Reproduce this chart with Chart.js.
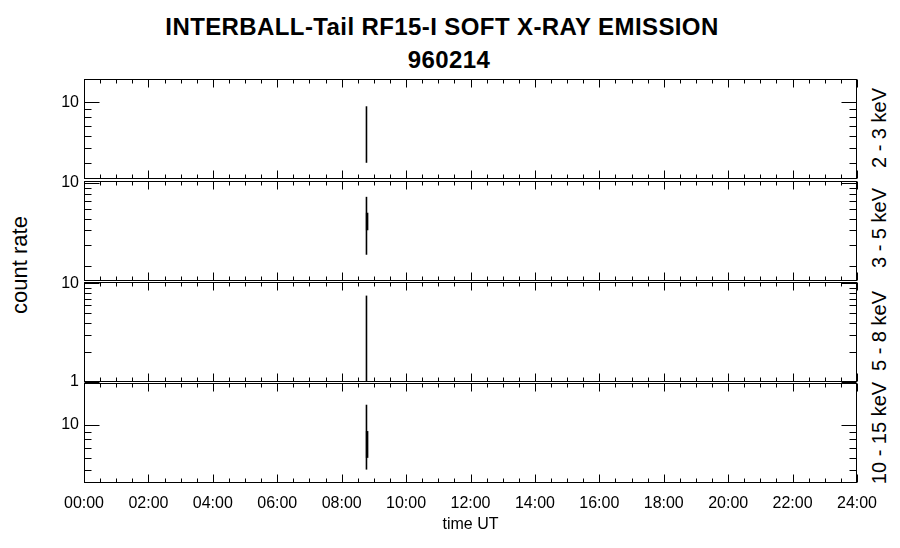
<!DOCTYPE html>
<html>
<head>
<meta charset="utf-8">
<script src="https://cdn.jsdelivr.net/npm/chart.js@4.4.0/dist/chart.umd.min.js"></script>
<style>
  body { margin: 0; background: #fff; }
  #wrap { position: relative; width: 900px; height: 548px; overflow: hidden; font-family: "Liberation Sans", Arial, sans-serif; color: #000; }
  canvas { position: absolute; left: 0; top: 0; }
  .title { position: absolute; left: 0; text-align: center; font-weight: bold; font-size: 24px; line-height: 28px; letter-spacing: 0.4px; white-space: nowrap; }
  .rot { position: absolute; transform: translate(-50%, -50%) rotate(-90deg); white-space: nowrap; font-size: 20px; line-height: 22px; }
  .ylab { font-size: 22px; }
</style>
</head>
<body>
<div id="wrap">
  <div class="title" style="top:13px; width:884px;">INTERBALL-Tail RF15-I SOFT X-RAY EMISSION</div>
  <div class="title" style="top:46px; width:898px;">960214</div>
  <div class="rot ylab" style="left:20px; top:265px;">count rate</div>
  <div class="rot" style="left:879px; top:128px;">2 - 3 keV</div>
  <div class="rot" style="left:879px; top:228px;">3 - 5 keV</div>
  <div class="rot" style="left:879px; top:331px;">5 - 8 keV</div>
  <div class="rot" style="left:879px; top:433px;">10 - 15 keV</div>
  <canvas id="c0" width="900" height="548"></canvas>
  <canvas id="c1" width="900" height="548"></canvas>
  <canvas id="c2" width="900" height="548"></canvas>
  <canvas id="c3" width="900" height="548"></canvas>
</div>
<script>
// 밴드별 count rate — 08:46 UT 근처 한 번의 스파이크
const BANDS = ['2 - 3 keV', '3 - 5 keV', '5 - 8 keV', '10 - 15 keV'];
const SPIKE_TIME = 8.77;
const CORE_TIME = 8.79;
const SPIKE_LO = [4.0, 2.5, 1.0, 5.0];
const SPIKE_HI = [9.4, 7.6, 7.5, 13.7];
const CORE_LO = [null, 4.0, null, 6.0];
const CORE_HI = [null, 5.6, null, 9.1];
const Y_MIN = [3.13, 1.51, 1.0, 4.06];
const Y_MAX = [14.2, 10.3, 10.3, 19.2];
const Y_LABELED = [[10], [10], [1, 10], [10]];
const X_LABELS = ['00:00', '02:00', '04:00', '06:00', '08:00', '10:00', '12:00',
  '14:00', '16:00', '18:00', '20:00', '22:00', '24:00'];

// 패널 배치 (픽셀)
const W = 900, H = 548;
const LEFT = 84, RIGHT = 857;
const TOPS = [79, 181, 282, 383];
const BOTTOMS = [179, 281, 382, 483];

Chart.defaults.font.family = '"Liberation Sans", Arial, sans-serif';
Chart.defaults.color = '#000';

// 테두리 + 안쪽으로 향하는 눈금 (1px 선명하게)
const frameTicks = {
  id: 'frameTicks',
  afterDraw(chart, args, opts) {
    const { ctx, chartArea: a } = chart;
    const x = chart.scales.x, y = chart.scales.y;
    const L = Math.round(a.left) + 0.5, R = Math.round(a.right) - 0.5;
    const T = Math.round(a.top) + 0.5, B = Math.round(a.bottom) - 0.5;
    ctx.save();
    ctx.strokeStyle = '#000';
    ctx.lineWidth = 1;
    ctx.strokeRect(L, T, R - L, B - T);
    ctx.beginPath();
    for (let h = 0; h <= 24; h += 0.5) {
      const px = Math.round(x.getPixelForValue(h)) + 0.5;
      const len = h % 2 === 0 ? 8 : 4;
      ctx.moveTo(px, T); ctx.lineTo(px, T + len);
      ctx.moveTo(px, B); ctx.lineTo(px, B - len);
    }
    ctx.stroke();
    ctx.beginPath();
    for (let e = -1; e <= 2; e++) {
      for (let m = 1; m <= 9; m++) {
        const v = m * Math.pow(10, e);
        if (v < opts.min - 1e-9 || v > opts.max) continue;
        const py = Math.round(y.getPixelForValue(v)) + 0.5;
        const len = m === 1 ? 15 : 7;
        ctx.moveTo(L, py); ctx.lineTo(L + len, py);
        ctx.moveTo(R, py); ctx.lineTo(R - len, py);
      }
    }
    ctx.stroke();
    ctx.restore();
  },
};

BANDS.forEach((band, i) => {
  const last = i === BANDS.length - 1;
  const datasets = [{
    label: band,
    data: [{ x: SPIKE_TIME, y: SPIKE_LO[i] }, { x: SPIKE_TIME, y: SPIKE_HI[i] }],
    borderColor: '#000', borderWidth: 1.6, pointRadius: 0,
  }];
  if (CORE_LO[i] != null) {
    datasets.push({
      label: band + ' core',
      data: [{ x: CORE_TIME, y: CORE_LO[i] }, { x: CORE_TIME, y: CORE_HI[i] }],
      borderColor: '#000', borderWidth: 2.5, pointRadius: 0,
    });
  }
  new Chart(document.getElementById('c' + i), {
    type: 'line',
    data: { datasets },
    options: {
      responsive: false, animation: false, events: [],
      layout: { padding: { top: TOPS[i], bottom: last ? 0 : H - BOTTOMS[i], left: 0, right: W - RIGHT } },
      plugins: {
        legend: { display: false }, tooltip: { enabled: false },
        frameTicks: { min: Y_MIN[i], max: Y_MAX[i] },
      },
      scales: {
        x: {
          type: 'linear', min: 0, max: 24, display: last,
          grid: { display: false, drawTicks: false }, border: { display: false },
          ticks: {
            stepSize: 2, padding: 11, maxRotation: 0, autoSkip: false, font: { size: 16 },
            callback: (v) => X_LABELS[v / 2],
          },
          title: { display: true, text: 'time UT', font: { size: 16 }, padding: { top: 4, bottom: 14 } },
          afterFit: (s) => { if (last) s.height = H - BOTTOMS[i]; },
        },
        y: {
          type: 'logarithmic', min: Y_MIN[i], max: Y_MAX[i],
          grid: { display: false, drawTicks: false }, border: { display: false },
          afterBuildTicks: (s) => { s.ticks = Y_LABELED[i].map((v) => ({ value: v })); },
          ticks: { padding: 5, font: { size: 16 }, callback: (v) => String(v) },
          afterFit: (s) => { s.width = LEFT; },
        },
      },
    },
    plugins: [frameTicks],
  });
});
</script>
</body>
</html>
